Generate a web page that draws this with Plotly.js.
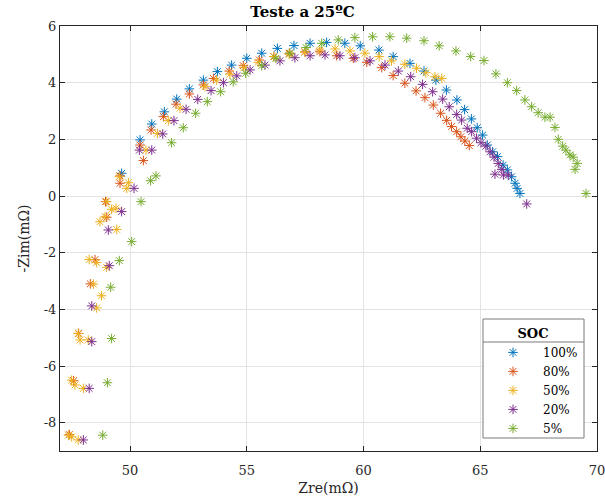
<!DOCTYPE html>
<html>
<head>
<meta charset="utf-8">
<script src="https://cdn.plot.ly/plotly-3.0.1.min.js"></script>
<style>html,body{margin:0;padding:0;background:#fff;}#chart{width:605px;height:503px;}</style>
</head>
<body>
<div id="chart"></div>
<script>
// SOC 100%
const zre100 = [49.64,50.43,50.93,51.47,52.0,52.54,53.14,53.74,54.35,55.0,55.64,56.31,57.02,57.71,58.42,59.2,59.86,60.66,61.27,61.99,62.59,63.1,63.55,64.0,64.33,64.62,64.87,65.1,65.3,65.53,65.74,65.98,66.16,66.34,66.49,66.58,66.7];
const zim100 = [0.8,1.98,2.54,2.97,3.42,3.78,4.09,4.39,4.62,4.86,5.04,5.21,5.31,5.39,5.42,5.39,5.3,5.15,4.92,4.68,4.41,4.09,3.74,3.39,3.05,2.72,2.41,2.15,1.8,1.56,1.39,1.09,0.92,0.68,0.45,0.27,0.09];
// SOC 80%
const zre80 = [47.4,47.58,47.8,48.3,48.5,48.95,49.0,49.57,49.57,50.57,50.43,50.9,51.43,51.97,52.54,53.14,53.57,54.25,54.85,55.54,56.16,56.82,57.49,58.13,58.85,59.56,60.14,60.78,61.27,61.77,62.25,62.63,62.99,63.3,63.56,63.77,63.99,64.17,64.34,64.53];
const zim80 = [-8.42,-6.52,-4.85,-3.1,-2.25,-0.2,-0.75,0.45,0.71,1.25,1.8,2.33,2.8,3.24,3.6,3.92,4.15,4.41,4.6,4.8,4.92,5.04,5.09,5.09,4.95,4.86,4.72,4.53,4.25,3.98,3.71,3.47,3.21,2.92,2.67,2.45,2.27,2.09,1.94,1.78];
// SOC 50%
const zre50 = [47.36,47.5,47.78,47.5,47.64,48.0,47.78,47.86,48.21,48.57,48.43,48.78,48.25,48.57,49.0,49.43,48.71,48.93,49.21,49.4,49.0,49.86,49.93,49.54,50.68,51.17,51.64,52.14,53.21,53.71,54.28,54.88,55.49,56.16,56.82,57.49,58.13,58.78,59.42,60.06,60.67,61.2,61.77,62.27,62.67,63.06,63.35];
const zim50 = [-8.44,-8.5,-8.61,-6.5,-6.67,-6.79,-4.85,-5.08,-5.08,-3.95,-3.11,-3.52,-2.24,-2.35,-2.52,-1.18,-0.91,-0.73,-0.47,-0.43,-0.2,0.27,0.47,0.68,1.62,2.21,2.66,3.1,3.86,4.09,4.3,4.53,4.72,4.92,5.0,5.07,5.15,5.19,5.12,5.04,4.92,4.77,4.65,4.51,4.35,4.21,4.15];
// SOC 20%
const zre20 = [48.0,48.25,48.36,48.36,49.11,49.07,49.64,50.17,50.4,50.93,51.4,51.88,52.4,52.9,53.47,54.0,54.57,55.14,55.78,56.42,57.06,57.71,58.35,58.99,59.63,60.28,60.92,61.49,62.02,62.53,62.96,63.39,63.67,63.99,64.2,64.44,64.63,64.84,65.03,65.24,65.42,65.59,65.77,65.92,65.63,65.99,66.2,66.99];
const zim20 = [-8.61,-6.79,-5.14,-3.88,-2.46,-1.2,-0.55,0.27,1.62,1.62,2.19,2.66,3.06,3.41,3.72,4.0,4.24,4.45,4.62,4.77,4.88,4.95,4.98,4.95,4.88,4.77,4.62,4.41,4.21,3.94,3.68,3.42,3.15,2.88,2.68,2.39,2.27,2.04,1.88,1.76,1.56,1.37,1.15,0.94,0.77,0.74,0.74,-0.28];
// SOC 5%
const zre5 = [48.83,49.03,49.21,49.17,49.54,50.07,50.47,50.88,51.11,51.78,52.28,52.81,53.31,53.88,54.42,54.95,55.64,56.25,56.85,57.54,58.21,58.92,59.63,60.39,61.13,61.85,62.59,63.24,63.96,64.59,65.16,65.67,66.16,66.56,66.91,67.2,67.48,67.77,67.99,68.2,68.34,68.53,68.67,68.84,68.98,69.15,69.06,69.53];
const zim5 = [-8.44,-6.59,-5.03,-3.22,-2.28,-1.61,-0.2,0.54,0.71,1.88,2.41,2.92,3.33,3.68,4.03,4.33,4.6,4.86,5.04,5.24,5.39,5.51,5.59,5.62,5.62,5.57,5.48,5.3,5.12,4.92,4.78,4.31,4.0,3.72,3.39,3.15,2.94,2.78,2.78,2.42,2.0,1.76,1.62,1.45,1.37,1.15,0.94,0.09];

const seriesNames = ['100%','80%','50%','20%','5%'];
const seriesX = [zre100, zre80, zre50, zre20, zre5];
const seriesY = [zim100, zim80, zim50, zim20, zim5];
const colors = ['#0072BD','#D95319','#EDB120','#7E2F8E','#77AC30'];

const xTickVals = [50,55,60,65,70];
const yTickVals = [-8,-6,-4,-2,0,2,4,6];
const yTickText = ['-8','-6','-4','-2','0','2','4','6'];

const FONT = 'DejaVu Serif, Liberation Serif, serif';
const traces = seriesNames.map((n,i)=>({
  type:'scatter', mode:'markers', name:n, x:seriesX[i], y:seriesY[i],
  marker:{symbol:'asterisk-open', size:8, color:colors[i], line:{color:colors[i], width:1}}
}));

const axisCommon = {
  showline:true, linecolor:'#262626', linewidth:1, mirror:'ticks',
  ticks:'inside', ticklen:5, tickcolor:'#262626',
  showgrid:true, gridcolor:'#e3e3e3', gridwidth:1, zeroline:false,
  ticklabeloverflow:'allow',
  tickfont:{family:FONT, size:13, color:'#262626'}
};

const lx0 = (483-60)/537, lx1 = (584-60)/537;
const ly0 = (451-438)/425, ly1 = (451-319)/425, lsep = (451-342)/425;
const legTop = (451-321)/425;

const layout = {
  width:605, height:503,
  margin:{l:60, r:8, t:26, b:52},
  paper_bgcolor:'#ffffff', plot_bgcolor:'#ffffff',
  title:{text:'<b>Teste a 25ºC</b>', font:{family:FONT, size:15, color:'#000'}, x:0.5, xanchor:'center', y:0.988, yanchor:'top'},
  xaxis:Object.assign({}, axisCommon, {range:[47,70], tickvals:xTickVals, ticklabelstandoff:7,
    title:{text:'Zre(mΩ)', font:{family:FONT, size:14, color:'#262626'}, standoff:6}}),
  yaxis:Object.assign({}, axisCommon, {range:[-9,6], tickvals:yTickVals, ticktext:yTickText,
    title:{text:'-Zim(mΩ)', font:{family:FONT, size:14, color:'#262626'}, standoff:10}}),
  showlegend:true,
  legend:{x:lx0, xanchor:'left', y:legTop, yanchor:'top', bgcolor:'rgba(0,0,0,0)', borderwidth:0,
    itemwidth:50, font:{family:FONT, size:12, color:'#000'},
    title:{text:'<b>SOC</b>', side:'top center', font:{family:FONT, size:13, color:'#000'}}},
  shapes:[
    {type:'rect', xref:'paper', yref:'paper', x0:lx0, x1:lx1, y0:ly0, y1:ly1, fillcolor:'#ffffff', line:{color:'#7a7a7a', width:1}, layer:'above'},
    {type:'line', xref:'paper', yref:'paper', x0:lx0, x1:lx1, y0:lsep, y1:lsep, line:{color:'#7a7a7a', width:1}, layer:'above'}
  ]
};

Plotly.newPlot('chart', traces, layout, {displayModeBar:false});
</script>
</body>
</html>
